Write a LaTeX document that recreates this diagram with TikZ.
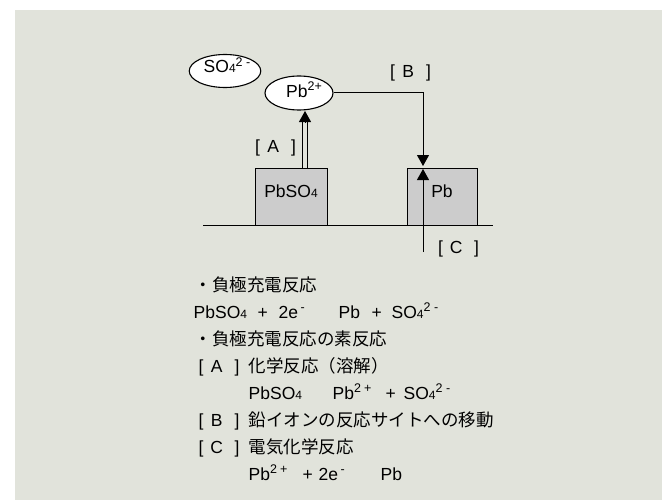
\documentclass[tikz,border=0pt]{standalone}
\usepackage{fontspec}
\setmainfont{Liberation Sans}
\newfontfamily\jp{Noto Sans CJK JP}
\usetikzlibrary{arrows.meta,shapes.geometric}
\definecolor{panel}{RGB}{225,227,219}
\definecolor{boxgray}{RGB}{204,204,204}
\newcommand\tokat[2]{\makebox[0pt][l]{\hspace*{#1pt}#2}}
\newcommand\sbs[1]{{\fontsize{12}{12}\selectfont #1}}
\newcommand\sps[1]{\raisebox{6.5pt}{\fontsize{12.5}{12}\selectfont #1}}
\newcommand\brk[1]{\makebox[41pt][l]{\tokat{0}{[}\tokat{18}{\makebox[0pt][c]{#1}}\tokat{36}{]}}}
\tikzset{
  txt/.style={anchor=base west, inner sep=0pt},
  ion/.style={ellipse, draw, fill=white, line width=1.1pt, inner sep=0pt},
  chem/.style={draw, fill=boxgray, line width=1pt, minimum height=57pt, inner sep=0pt, text height=13pt, text depth=12pt},
  arr/.style={line width=1pt, -{Triangle[width=12pt,length=11pt]}},
  every node/.style={font=\fontsize{17.5}{21}\selectfont}
}
\begin{document}
\begin{tikzpicture}[x=1pt,y=-1pt]
\useasboundingbox (0,0) rectangle (668,500);
\fill[panel] (15,10) rectangle (662,500);
% boxes
\node[chem, minimum width=72pt] (pbso4) at (291,196.5) {PbSO\sbs{4}};
\node[chem, minimum width=70pt] (pb) at (442,196.5) {Pb};
\coordinate (gl) at (203,225);
\coordinate (gr) at (493,225);
\draw[line width=1pt] (gl) -- (gr);
% ions
\node[ion, minimum width=66pt, minimum height=33pt, text height=10pt, text depth=6pt] (so4) at (225,71) {\hspace*{4pt}SO\sbs{4}\sps{2\hspace{3.5pt}-}};
\node[ion, minimum width=68pt, minimum height=34pt, text height=12pt, text depth=4pt] (pb2) at (299,93) {\hspace*{10pt}Pb\sps{2+}};
% arrow A (double)
\coordinate (aS) at (305,168);
\coordinate (aE) at (305,111);
\draw[line width=1pt, double=panel, double distance=3.5pt, shorten >=11pt] (aS) -- (aE);
\draw[arr, shorten <=45pt] (aS) -- (aE);
% arrow B
\coordinate (bE) at (423,166);
\draw[arr] (pb2.east) -| (bE);
% arrow C
\coordinate (cS) at (423,252);
\coordinate (cE) at (423,169);
\draw[arr] (cS) -- (cE);
% labels
\node[txt] (la) at (255,152) {\brk{A}};
\node[txt] (lb) at (390,78) {\brk{B}};
\node[txt] (lc) at (438,253) {\brk{C}};
% text block
\node[txt] (l1) at (194.5,291) {\jp ・負極充電反応};
\node[txt] (l2) at (193,318) {\tokat{0}{PbSO\sbs{4}}\tokat{64}{+}\tokat{85}{2e\sps{\hspace{2.5pt}-}}\tokat{145}{Pb}\tokat{178}{+}\tokat{198}{SO\sbs{4}\sps{2\hspace{3.5pt}-}}};
\node[txt] (l3) at (194.5,345) {\jp ・負極充電反応の素反応};
\node[txt] (l4) at (198,372) {\tokat{0}{\brk{A}}\tokat{50}{\jp 化学反応（溶解）}};
\node[txt] (l5) at (248,399) {\tokat{0}{PbSO\sbs{4}}\tokat{84}{Pb\sps{2\hspace{3pt}+}}\tokat{137}{+}\tokat{155}{SO\sbs{4}\sps{2\hspace{3.5pt}-}}};
\node[txt] (l6) at (198,426) {\tokat{0}{\brk{B}}\tokat{50}{\jp 鉛イオンの反応サイトへの移動}};
\node[txt] (l7) at (198,453) {\tokat{0}{\brk{C}}\tokat{50}{\jp 電気化学反応}};
\node[txt] (l8) at (248,480) {\tokat{0}{Pb\sps{2\hspace{3pt}+}}\tokat{54}{+}\tokat{70}{2e\sps{\hspace{2.5pt}-}}\tokat{132}{Pb}};
\end{tikzpicture}
\end{document}
